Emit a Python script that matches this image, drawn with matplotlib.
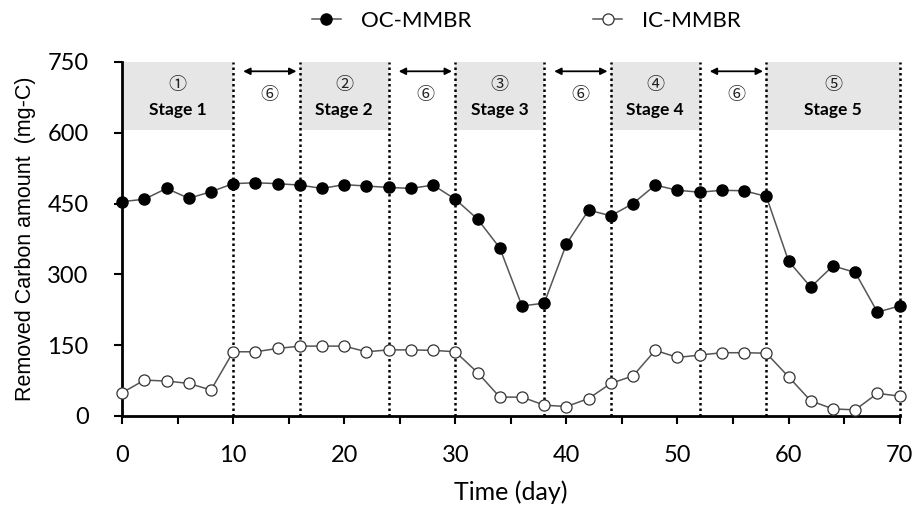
import numpy as np
import matplotlib.pyplot as plt

plt.rcParams['font.family'] = ['Lato', 'DejaVu Sans']

# data
days = list(range(0, 71, 2))
oc = [454, 459, 482, 461, 475, 492, 494, 492, 489, 482, 490, 487, 484, 482, 489, 459,
      417, 356, 233, 239, 364, 436, 424, 450, 489, 478, 474, 478, 477, 465,
      328, 273, 318, 304, 220, 233]
ic = [49, 76, 74, 69, 55, 136, 136, 143, 148, 148, 148, 136, 140, 140, 139, 136,
      92, 40, 40, 23, 20, 37, 69, 85, 139, 124, 129, 134, 134, 133,
      83, 32, 15, 13, 48, 42]

stage_spans = [(0, 10), (16, 24), (30, 38), (44, 52), (58, 70)]
stage_names = ['Stage 1', 'Stage 2', 'Stage 3', 'Stage 4', 'Stage 5']
stage_marks = ['①', '②', '③', '④', '⑤']
gap_spans = [(10, 16), (24, 30), (38, 44), (52, 58)]
dividers = [10, 16, 24, 30, 38, 44, 52, 58, 70]

fig = plt.figure(figsize=(9.18, 5.07), dpi=100)
ax = fig.add_axes([0.133, 0.1795, 0.847, 0.6985])

cjk = ['Noto Sans CJK JP', 'DejaVu Sans']

# gray stage boxes
for (a, b), name, mk in zip(stage_spans, stage_names, stage_marks):
    ax.fill_between([a, b], 605, 750, color='#e6e6e6', lw=0, zorder=0)
    ax.text((a + b) / 2, 702, mk, ha='center', va='center', fontsize=13, family=cjk, color='#222222')
    ax.text((a + b) / 2, 648, name, ha='center', va='center', fontsize=12.5, fontweight='bold')

# transition arrows
for a, b in gap_spans:
    ax.annotate('', xy=(b - 0.3, 730), xytext=(a + 0.9, 730),
                arrowprops=dict(arrowstyle='<|-|>', color='black', lw=1.3, mutation_scale=10,
                                shrinkA=0, shrinkB=0))
    ax.text((a + b) / 2 + 0.3, 680, '⑥', ha='center', va='center', fontsize=13, family=cjk, color='#222222')

for d in dividers:
    ax.plot([d, d], [0, 750], color='black', ls=(0, (1, 1.2)), lw=1.8, zorder=1, clip_on=False)

ax.plot(days, oc, color='#555555', lw=1.1, marker='o', ms=8, mfc='black', mec='black',
        label='OC-MMBR', zorder=3, clip_on=False)
ax.plot(days, ic, color='#555555', lw=1.1, marker='o', ms=8, mfc='white', mec='#333333',
        mew=0.9, label='IC-MMBR', zorder=3, clip_on=False)

ax.set_xlim(0, 70)
ax.set_ylim(0, 750)
ax.set_xticks(range(0, 71, 10))
ax.set_xticks(range(0, 71, 5), minor=True)
ax.set_yticks(range(0, 751, 150))
ax.tick_params(axis='both', which='both', direction='out', length=6, width=1.5, labelsize=17)
ax.tick_params(axis='x', pad=15)
ax.tick_params(axis='y', pad=18)
ax.spines['top'].set_visible(False)
ax.spines['right'].set_visible(False)
ax.spines['left'].set_linewidth(2)
ax.spines['bottom'].set_linewidth(2)

ax.set_xlabel('Time (day)', fontsize=18, labelpad=10)
ax.set_ylabel('Removed Carbon amount  (mg-C)', fontsize=15.5, family='Liberation Sans', labelpad=8)

ax.legend(loc='lower center', bbox_to_anchor=(0.52, 1.03), ncol=2, frameon=False,
          fontsize=16, columnspacing=5.5, handlelength=1.3, handletextpad=0.9)

fig.savefig('out.png', dpi=100)
